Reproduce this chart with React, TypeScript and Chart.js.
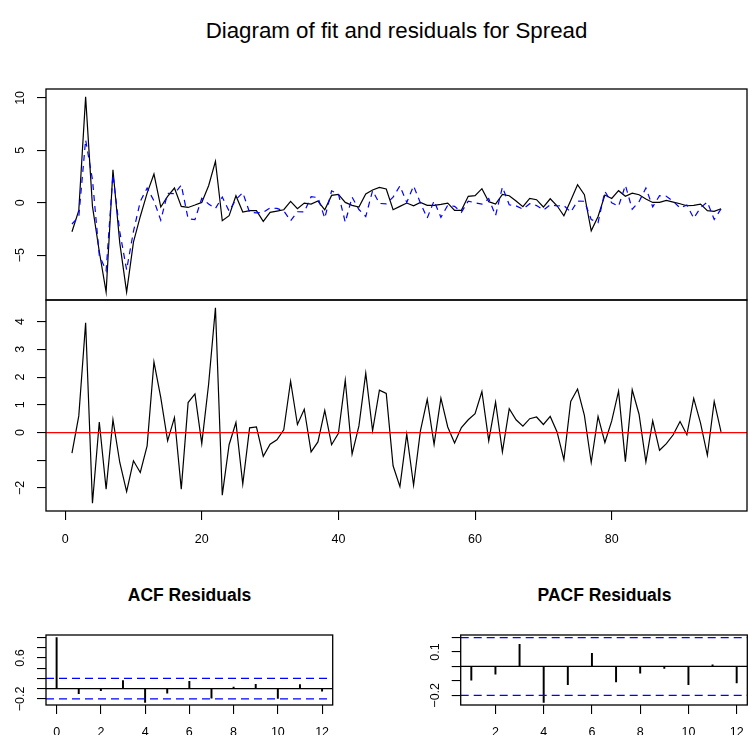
import React, { useEffect, useRef } from 'react';
import { Chart, registerables } from 'chart.js';

Chart.register(...registerables);

const FONT = '"Liberation Sans", Arial, Helvetica, sans-serif';

// ---- data ----
const actual = [
  -2.77, -0.73, 10.1, -0.35, -4.65, -8.53, 3.15, -3.85, -8.53, -3.76,
  -1.31, 0.92, 2.74, -0.41, 0.6, 1.4, -0.35, -0.45, -0.22, 0.03,
  1.62, 3.95, -1.72, -1.24, 0.67, -0.89, -0.76, -0.76, -1.78, -0.92,
  -0.8, -0.67, 0.13, -0.57, -0.03, -0.13, 0.16, -0.67, 0.7, 0.8,
  0.03, -0.25, -0.41, 0.83, 1.21, 1.46, 1.31, -0.67, -0.35, -0.03,
  -0.29, 0.03, -0.25, -0.25, -0.16, -0.03, -0.73, -0.73, 0.61, 0.67,
  1.34, 0.1, -0.13, 0.8, 0.67, 0.16, -0.38, 0.41, 0.29, -0.41,
  0.38, -0.29, -1.24, 0.22, 1.72, 0.76, -2.68, -1.31, 0.73, 0.41,
  1.15, 0.61, 0.92, 0.76, 0.35, 0.03, 0.03, 0.22, 0.06, -0.1,
  -0.29, -0.25, -0.13, -0.76, -0.83, -0.57,
];

const fitted = [
  -2.03, -1.33, 6.0, 2.2, -5.03, -6.49, 2.69, -2.77, -6.4, -2.74,
  0.13, 1.4, 0.19, -1.67, 0.9, 0.86, 1.69, -1.53, -1.61, 0.43,
  -0.12, -0.55, 0.54, -0.8, 0.31, 0.97, -0.93, -0.96, -0.92, -0.5,
  -0.54, -0.77, -1.72, -0.86, -0.87, 0.57, 0.5, -1.47, 1.14, 0.83,
  -1.86, 0.53, -0.65, -1.31, 1.15, -0.07, -0.1, 0.53, 1.6, 0.03,
  1.61, -0.03, -1.45, 0.18, -1.4, -0.23, -0.35, -0.91, 0.15, -0.01,
  -0.14, 0.4, -1.23, 1.5, -0.19, -0.3, -0.61, -0.09, -0.27, -0.7,
  -0.2, -0.31, -0.26, -0.9, 0.15, 0.14, -1.6, -1.89, 1.09, -0.01,
  -0.34, 1.66, -0.62, 0.1, 1.41, -0.39, 0.67, 0.62, 0.14, -0.5,
  -0.21, -1.48, -0.47, 0.06, -1.6, -0.59,
];

const residuals = [
  -0.74, 0.6, 3.96, -2.55, 0.38, -2.04, 0.46, -1.08, -2.13, -1.02,
  -1.44, -0.48, 2.55, 1.26, -0.3, 0.54, -2.04, 1.08, 1.39, -0.4,
  1.74, 4.5, -2.26, -0.44, 0.36, -1.86, 0.17, 0.2, -0.86, -0.42,
  -0.26, 0.1, 1.85, 0.29, 0.84, -0.7, -0.34, 0.8, -0.44, -0.03,
  1.89, -0.78, 0.24, 2.14, 0.06, 1.53, 1.41, -1.2, -1.95, -0.06,
  -1.9, 0.06, 1.2, -0.43, 1.24, 0.2, -0.38, 0.18, 0.46, 0.68,
  1.48, -0.3, 1.1, -0.7, 0.86, 0.46, 0.23, 0.5, 0.56, 0.29,
  0.58, 0.02, -0.98, 1.12, 1.57, 0.62, -1.08, 0.58, -0.36, 0.42,
  1.49, -1.05, 1.54, 0.66, -1.06, 0.42, -0.64, -0.4, -0.08, 0.4,
  -0.08, 1.23, 0.34, -0.82, 1.12, 0.02,
];

const acfLags = [0, 1, 2, 3, 4, 5, 6, 7, 8, 9, 10, 11, 12];
const acfValues = [1.0, -0.1, -0.04, 0.16, -0.27, -0.09, 0.145, -0.185, 0.03, 0.086, -0.19, 0.08, -0.05];
const pacfLags = [1, 2, 3, 4, 5, 6, 7, 8, 9, 10, 11, 12];
const pacfValues = [-0.095, -0.053, 0.153, -0.249, -0.126, 0.091, -0.107, -0.047, -0.014, -0.126, 0.012, -0.114];
const ciBound = 0.2;

// ---- ticks ----
const mainXTicks = [0, 20, 40, 60, 80];
const fitYTicks = [-5, 0, 5, 10];
const fitYLabels = ['−5', '0', '5', '10'];
const residYTicks = [-2, -1, 0, 1, 2, 3, 4];
const residYLabels = ['−2', '', '0', '1', '2', '3', '4'];
const acfXTicks = [0, 2, 4, 6, 8, 10, 12];
const acfYTicks = [-0.2, 0, 0.2, 0.4, 0.6, 0.8, 1.0];
const acfYLabels = ['−0.2', '', '', '', '0.6', '', ''];
const pacfXTicks = [2, 4, 6, 8, 10, 12];
const pacfYTicks = [-0.2, -0.1, 0, 0.1, 0.2];
const pacfYLabels = ['−0.2', '', '', '0.1', ''];

const TICK_FONT = { family: FONT, size: 12.5 };

function yScale(min: number, max: number, ticks: number[], labels: string[], width: number, padding: number) {
  return {
    type: 'linear',
    position: 'left',
    min,
    max,
    afterBuildTicks: (s: any) => {
      s.ticks = ticks.map((v) => ({ value: v }));
    },
    afterFit: (s: any) => {
      s.width = width;
      s.paddingTop = 0;
      s.paddingBottom = 0;
      s.paddingLeft = 0;
      s.paddingRight = 0;
    },
    grid: { display: true, drawOnChartArea: false, drawTicks: true, tickLength: 9, color: '#000', lineWidth: 1.1 },
    border: { display: false },
    ticks: {
      autoSkip: false,
      minRotation: 90,
      maxRotation: 90,
      crossAlign: 'center',
      padding,
      color: '#000',
      font: TICK_FONT,
      callback: (_v: any, i: number) => labels[i],
    },
  };
}

function xScale(min: number, max: number, ticks: number[], display: boolean, height: number, padding: number) {
  return {
    type: 'linear',
    position: 'bottom',
    min,
    max,
    offset: false,
    display,
    afterBuildTicks: (s: any) => {
      s.ticks = ticks.map((v) => ({ value: v }));
    },
    afterFit: (s: any) => {
      s.height = height;
      s.paddingTop = 0;
      s.paddingBottom = 0;
      s.paddingLeft = 0;
      s.paddingRight = 0;
    },
    grid: { display: true, offset: false, drawOnChartArea: false, drawTicks: true, tickLength: 9, color: '#000', lineWidth: 1.1 },
    border: { display: false },
    ticks: {
      autoSkip: false,
      minRotation: 0,
      maxRotation: 0,
      padding,
      color: '#000',
      font: TICK_FONT,
      callback: (v: any) => String(v),
    },
  };
}

const framePlugin = {
  id: 'frame',
  afterDraw(chart: any) {
    const { ctx, chartArea: a } = chart;
    ctx.save();
    ctx.strokeStyle = '#000';
    ctx.lineWidth = 1.3;
    ctx.strokeRect(a.left, a.top, a.right - a.left, a.bottom - a.top);
    ctx.restore();
  },
};

type RefLine = { value: number; color: string; width: number; dash?: number[] };

function refLinesPlugin(lines: RefLine[]) {
  return {
    id: 'refLines',
    afterDatasetsDraw(chart: any) {
      const { ctx, chartArea: a, scales } = chart;
      ctx.save();
      ctx.beginPath();
      ctx.rect(a.left, a.top, a.right - a.left, a.bottom - a.top);
      ctx.clip();
      for (const l of lines) {
        const py = scales.y.getPixelForValue(l.value);
        ctx.beginPath();
        ctx.setLineDash(l.dash || []);
        ctx.strokeStyle = l.color;
        ctx.lineWidth = l.width;
        ctx.moveTo(a.left, py);
        ctx.lineTo(a.right, py);
        ctx.stroke();
      }
      ctx.restore();
    },
  };
}

const baseOptions = {
  responsive: false,
  animation: false,
  events: [],
  plugins: { legend: { display: false }, tooltip: { enabled: false }, title: { display: false } },
};

const obs = actual.map((_, i) => i + 1);

function fitConfig(): any {
  return {
    type: 'line',
    data: {
      datasets: [
        {
          label: 'Fitted',
          data: obs.map((x, i) => ({ x, y: fitted[i] })),
          borderColor: '#0000FF',
          borderWidth: 1.2,
          borderDash: [6, 5],
          pointRadius: 0,
          tension: 0,
          fill: false,
        },
        {
          label: 'Spread',
          data: obs.map((x, i) => ({ x, y: actual[i] })),
          borderColor: '#000000',
          borderWidth: 1.2,
          pointRadius: 0,
          tension: 0,
          fill: false,
        },
      ],
    },
    options: {
      ...baseOptions,
      layout: { padding: { top: 9, bottom: 10, left: 0, right: 1 } },
      scales: {
        x: xScale(-2.8, 99.8, mainXTicks, false, 0, 0),
        y: yScale(-9.28, 10.85, fitYTicks, fitYLabels, 46, 8.9),
      },
    },
    plugins: [framePlugin],
  };
}

function residConfig(): any {
  return {
    type: 'line',
    data: {
      datasets: [
        {
          label: 'Residuals',
          data: obs.map((x, i) => ({ x, y: residuals[i] })),
          borderColor: '#000000',
          borderWidth: 1.2,
          pointRadius: 0,
          tension: 0,
          fill: false,
        },
      ],
    },
    options: {
      ...baseOptions,
      layout: { padding: { top: 10, bottom: 9, left: 0, right: 1 } },
      scales: {
        x: xScale(-2.8, 99.8, mainXTicks, true, 40, 12),
        y: yScale(-2.83, 4.78, residYTicks, residYLabels, 46, 8.9),
      },
    },
    plugins: [refLinesPlugin([{ value: 0, color: '#FF0000', width: 1.2 }]), framePlugin],
  };
}

function corrConfig(lags: number[], values: number[], xMin: number, xMax: number, xTicks: number[], yMin: number, yMax: number, yTicks: number[], yLabels: string[], axisWidth: number, rightPad: number): any {
  return {
    type: 'bar',
    data: {
      datasets: [
        {
          label: 'r',
          data: lags.map((x, i) => ({ x, y: values[i] })),
          backgroundColor: '#000000',
          borderWidth: 0,
          barThickness: 1.3,
        },
      ],
    },
    options: {
      ...baseOptions,
      layout: { padding: { top: 10, bottom: 3, left: 0, right: rightPad } },
      scales: {
        x: xScale(xMin, xMax, xTicks, true, 30, 11.5),
        y: yScale(yMin, yMax, yTicks, yLabels, axisWidth, 3.65),
      },
    },
    plugins: [
      refLinesPlugin([
        { value: 0, color: '#000000', width: 1.2 },
        { value: ciBound, color: '#0000FF', width: 1.2, dash: [8, 5] },
        { value: -ciBound, color: '#0000FF', width: 1.2, dash: [8, 5] },
      ]),
      framePlugin,
    ],
  };
}

function ChartCanvas(props: { left: number; top: number; width: number; height: number; config: () => any }) {
  const ref = useRef<HTMLCanvasElement>(null);
  useEffect(() => {
    const chart = new Chart(ref.current as HTMLCanvasElement, props.config());
    return () => chart.destroy();
  }, []);
  return (
    <canvas
      ref={ref}
      width={props.width}
      height={props.height}
      style={{ position: 'absolute', left: props.left, top: props.top, width: props.width, height: props.height }}
    />
  );
}

export default function App() {
  return (
    <div style={{ position: 'absolute', left: 0, top: 0, width: 748, height: 738, background: '#ffffff', fontFamily: FONT, color: '#000' }}>
      <div style={{ position: 'absolute', left: 46, width: 701, top: 18, textAlign: 'center', fontSize: 22.3, lineHeight: '26px' }}>
        Diagram of fit and residuals for Spread
      </div>
      <ChartCanvas left={0} top={80} width={748} height={230} config={fitConfig} />
      <ChartCanvas left={0} top={290} width={748} height={270} config={residConfig} />
      <div style={{ position: 'absolute', left: 46, width: 287, top: 585, textAlign: 'center', fontSize: 17.5, fontWeight: 'bold', lineHeight: '21px' }}>
        ACF Residuals
      </div>
      <div style={{ position: 'absolute', left: 461, width: 287, top: 585, textAlign: 'center', fontSize: 17.5, fontWeight: 'bold', lineHeight: '21px' }}>
        PACF Residuals
      </div>
      <ChartCanvas
        left={0}
        top={625}
        width={345}
        height={113}
        config={() => corrConfig(acfLags, acfValues, -0.48, 12.48, acfXTicks, -0.32, 1.05, acfYTicks, acfYLabels, 46, 12.3)}
      />
      <ChartCanvas
        left={400}
        top={625}
        width={348}
        height={113}
        config={() => corrConfig(pacfLags, pacfValues, 0.56, 12.44, pacfXTicks, -0.267, 0.218, pacfYTicks, pacfYLabels, 60.7, 0.7)}
      />
    </div>
  );
}
